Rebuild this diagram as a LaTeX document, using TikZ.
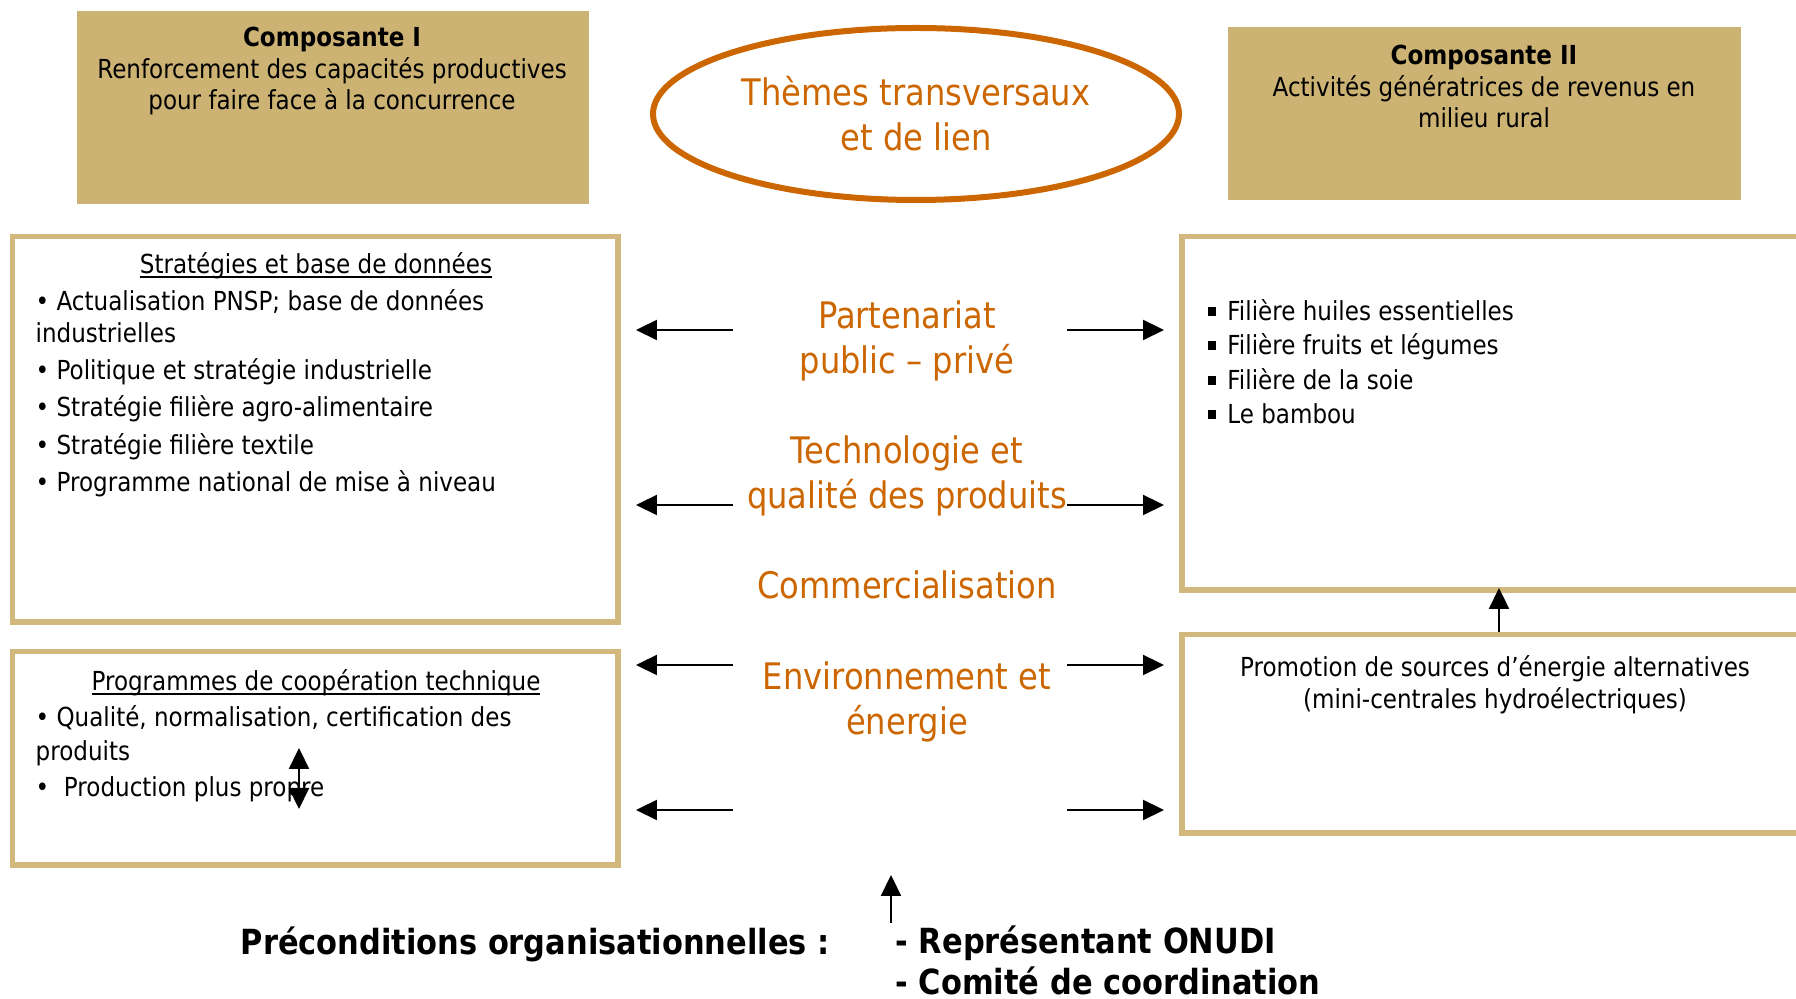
\documentclass[tikz,border=0pt]{standalone}
\usepackage{fontspec}
\setmainfont{DejaVu Sans}[FakeStretch=0.88]
\usetikzlibrary{positioning,arrows.meta,shapes.geometric}
\definecolor{sand}{HTML}{CCB374}
\definecolor{sandline}{HTML}{D2B87C}
\definecolor{rust}{HTML}{CC6600}
\newcommand\sqbullet{\rule[0.45mm]{0.8mm}{0.9mm}}
\newsavebox\headbox
\newcommand\lined[1]{\sbox\headbox{#1}\rlap{\rule[-0.45mm]{\wd\headbox}{0.2mm}}\usebox\headbox}

\begin{document}
\begin{tikzpicture}[x=0.1mm,y=-0.1mm,>={Triangle[length=2.1mm,width=2mm]},
  comp/.style={fill=sand,inner sep=0pt,anchor=north west},
  panel/.style={draw=sandline,line width=0.55mm,inner sep=0pt,anchor=north west},
  theme/.style={text=rust,font=\fontsize{10.4}{12.9}\selectfont,align=center,anchor=base,inner sep=0pt},
  body/.style={font=\fontsize{7.45}{9.2}\selectfont,inner sep=0pt},
  strong/.style={font=\bfseries\fontsize{9.85}{11.9}\selectfont,inner sep=0pt},
  link/.style={->,line width=0.22mm,shorten >=1.5mm}]

  \useasboundingbox (0,0) rectangle (1796,999);
  \clip (0,0) rectangle (1796,999);

  % components (multi-line texts sit on their last baseline)
  \node[comp,minimum width=51.2mm,minimum height=19.3mm] (compI) at (76,10) {};
  \node[comp,minimum width=51.3mm,minimum height=17.3mm] (compII) at (1227,26) {};
  \node[body,anchor=base,align=center,font=\fontsize{7.45}{8.9}\selectfont] (compIhead) at (332,109.5)
    {\textbf{Composante I}\\Renforcement des capacités productives\\pour faire face à la concurrence};
  \node[body,anchor=base,align=center,font=\fontsize{7.45}{8.9}\selectfont] (compIIhead) at (1484,127.5)
    {\textbf{Composante II}\\Activités génératrices de revenus en\\milieu rural};

  \node[ellipse,draw=rust,line width=0.6mm,minimum width=52.6mm,minimum height=17.2mm,
    inner sep=0pt,text=rust,font=\fontsize{10.4}{12.8}\selectfont,align=center] (themes) at (916,114)
    {Thèmes transversaux\\et de lien};

  % panels
  \node[panel,minimum width=60.55mm,minimum height=38.55mm] (strat) at (10,234) {};
  \node[panel,minimum width=60.55mm,minimum height=21.35mm] (coop) at (10,649) {};
  \node[panel,minimum width=62.5mm,minimum height=35.35mm] (fil) at (1179,234) {};
  \node[panel,minimum width=62.5mm,minimum height=19.85mm] (promo) at (1179,632) {};

  \node[body,anchor=base] (strathead) at (316,274) {\lined{Stratégies et base de données}};
  \node[body,anchor=base west,align=left] (stratlist) at (35,491.5)
    {• Actualisation PNSP; base de données\\industrielles\\[1.4pt]
     • Politique et stratégie industrielle\\[1.4pt]
     • Stratégie filière agro-alimentaire\\[1.4pt]
     • Stratégie filière textile\\[1.4pt]
     • Programme national de mise à niveau};

  \node[body,anchor=base] (coophead) at (316,690.5) {\lined{Programmes de coopération technique}};
  \node[body,anchor=base west,align=left] (cooplist) at (35,796.5)
    {• Qualité, normalisation, certification des\\[0.4pt]produits\\[1pt]
     • \ Production plus propre};

  \node[body,anchor=base west,align=left] (fillist) at (1207,423.5)
    {\sqbullet\ \,Filière huiles essentielles\\[0.6pt]
     \sqbullet\ \,Filière fruits et légumes\\[0.6pt]
     \sqbullet\ \,Filière de la soie\\[0.6pt]
     \sqbullet\ \,Le bambou};

  \node[body,anchor=base,align=center] (promotext) at (1495,708.5)
    {Promotion de sources d’énergie alternatives\\(mini-centrales hydroélectriques)};

  % cross-cutting themes
  \node[theme] (partenariat) at (907,374) {Partenariat\\public – privé};
  \node[theme] (techno) at (907,509) {Technologie et\\qualité des produits};
  \node[theme] (commerce) at (907,599) {Commercialisation};
  \node[theme] (environ) at (907,735) {Environnement et\\énergie};

  \node[strong,anchor=base west] (precond) at (240,955) {Préconditions organisationnelles :};
  \node[strong,anchor=base west,align=left,text depth=0pt] (acteurs) at (895,995)
    {- Représentant ONUDI\\- Comité de coordination};

  % arrows
  \foreach \yy/\lbox/\rbox in {330/strat/fil,505/strat/fil,665/coop/promo,810/coop/promo}{
    \coordinate (from\yy) at (733,\yy);
    \coordinate (to\yy) at (1067,\yy);
    \draw[link] (from\yy) -- (\lbox.east |- from\yy);
    \draw[link] (to\yy) -- (\rbox.west |- to\yy);
  }
  \coordinate (upA) at (1499,0);
  \draw[link,shorten >=-0.5mm] (promo.north -| upA) -- (fil.south -| upA);
  \coordinate (swapTop) at (299,748);
  \coordinate (swapBot) at (299,809);
  \draw[<->,line width=0.22mm] (swapTop) -- (swapBot);
  \coordinate (orgFoot) at (891,923);
  \coordinate (orgHead) at (891,875);
  \draw[->,line width=0.22mm] (orgFoot) -- (orgHead);
\end{tikzpicture}
\end{document}
